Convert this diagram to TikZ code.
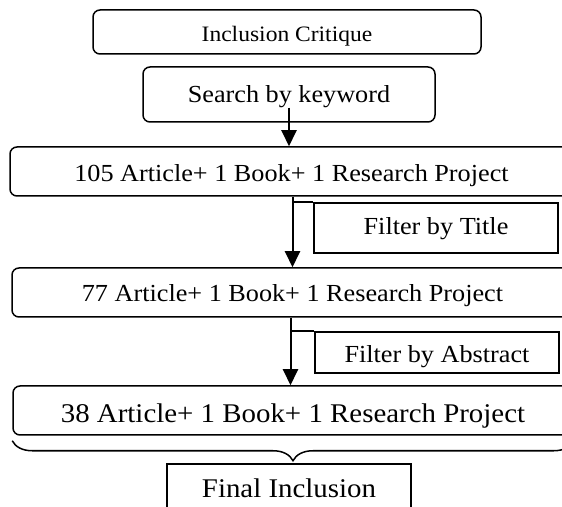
\documentclass[tikz,border=0pt]{standalone}
\usepackage{fontspec}
\setmainfont{Liberation Serif}[FakeStretch=1.07]
\usetikzlibrary{arrows.meta,decorations.pathreplacing}
\newcommand{\sizedfont}[1]{\fontsize{#1}{#1}\selectfont}
\tikzset{
  stepbox/.style={draw=black,line width=1.5pt,rounded corners=7pt,
                  inner sep=0pt,text depth=0pt,font=\sizedfont{24.5}},
  filterbox/.style={draw=black,line width=1.7pt,inner sep=0pt,
                    text depth=0pt,font=\sizedfont{24.5}},
  flow/.style={-{Triangle[length=16pt,width=15pt]},line width=2pt},
  wire/.style={black,line width=1.7pt},
  curly/.style={decorate,decoration={brace,amplitude=20pt},line width=1.5pt},
}

\begin{document}
\begin{tikzpicture}[x=1pt,y=1pt]
  \clip (0,0) rectangle (562,506);

  \node[stepbox,minimum width=388pt,minimum height=44pt,text height=20pt,
        font=\sizedfont{22}] (crit) at (287,474) {Inclusion Critique};
  \node[stepbox,minimum width=292pt,minimum height=55pt,text height=17pt]
    (search) at (289,411.5) {Search by keyword};

  \node[stepbox,minimum width=563pt,minimum height=49pt,text height=21pt]
    (n105) at (291.5,334.5) {105 Article+ 1 Book+ 1 Research Project};
  \node[filterbox,minimum width=244pt,minimum height=50pt,text height=14pt]
    (title) at (436,278) {Filter by Title};

  \node[stepbox,minimum width=561pt,minimum height=49pt,text height=19pt]
    (n77) at (292.5,213.5) {77 Article+ 1 Book+ 1 Research Project};
  \node[filterbox,minimum width=244pt,minimum height=41pt,text height=21pt]
    (abstr) at (437,153.5) {Filter by Abstract};

  \node[stepbox,minimum width=560pt,minimum height=49pt,text height=25pt,
        font=\sizedfont{27}] (n38) at (293,95.5)
    {38 Article+ 1 Book+ 1 Research Project};
  \node[filterbox,minimum width=244pt,minimum height=76pt,text height=0pt,
        text depth=10pt,font=\sizedfont{27}] (final) at (289,4) {Final Inclusion};

  % flow between the stages
  \draw[flow] ([yshift=15pt]search.south) -- (search.south |- n105.north);
  \draw[flow] (n105.south -| n77.north) -- (n77.north);
  \draw[flow] ([xshift=-2pt]n77.south) -- ([xshift=-2pt]n77.south |- n38.north);
  \draw[wire] (title.north west) -- (title.north west -| n77.north);
  \draw[wire] (abstr.north west) -- ([xshift=-2pt]abstr.north west -| n77.south);

  \draw[curly] ([yshift=-5pt]n38.south east) -- ([yshift=-5pt]n38.south west);
\end{tikzpicture}
\end{document}
